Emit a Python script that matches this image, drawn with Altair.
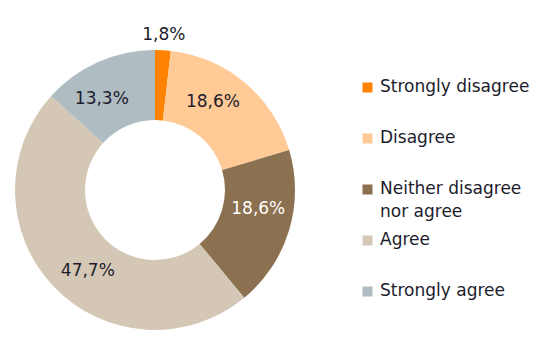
import altair as alt
import pandas as pd

categories = ["Strongly disagree", "Disagree", "Neither disagree nor agree", "Agree", "Strongly agree"]
values = [1.8, 18.6, 18.6, 47.7, 13.3]
labels = ["1,8%", "18,6%", "18,6%", "47,7%", "13,3%"]
colors = ["#FF8200", "#FFCA96", "#8C7150", "#D5C7B5", "#AFBCC1"]

df = pd.DataFrame({
    "category": categories,
    "value": values,
    "label": labels,
    "order": list(range(len(categories))),
})

FONT = "DejaVu Sans"
TEXT = "#1c1c2c"

base = alt.Chart(df).encode(
    theta=alt.Theta("value:Q", stack=True),
    order=alt.Order("order:Q"),
)

arcs = base.mark_arc(innerRadius=70, outerRadius=140, stroke=None).encode(
    color=alt.Color(
        "category:N",
        scale=alt.Scale(domain=categories, range=colors),
        sort=categories,
        legend=alt.Legend(
            title=None,
            orient="none",
            legendX=351,
            legendY=51,
            symbolType="square",
            symbolSize=100,
            symbolStrokeWidth=0,
            labelFont=FONT,
            labelFontSize=17,
            labelColor=TEXT,
            labelLimit=300,
            labelBaseline="top",
            rowPadding=10,
            labelOffset=4,
            labelExpr="datum.label == 'Neither disagree nor agree' ? ['Neither disagree', 'nor agree'] : [datum.label, '']",
        ),
    )
)

text_in = base.mark_text(font=FONT, fontSize=17, radius=105).encode(
    text="label:N",
    color=alt.condition(alt.datum.category == "Neither disagree nor agree", alt.value("white"), alt.value(TEXT)),
)
text_in = text_in.transform_filter(alt.datum.value >= 5)

text_out = base.mark_text(font=FONT, fontSize=17, radius=155, color=TEXT).encode(
    text="label:N",
)
text_out = text_out.transform_filter(alt.datum.value < 5)

chart = (arcs + text_in + text_out).properties(
    width=294,
    height=324,
    padding={"left": 0, "top": 20, "right": 248, "bottom": 0},
    autosize=alt.AutoSizeParams(type="none"),
).configure_view(stroke=None).configure(
    style={"guide-label": {"lineHeight": 23, "dy": -9}}
)

chart.save("out.html", embed_options={"renderer": "svg", "actions": False})
